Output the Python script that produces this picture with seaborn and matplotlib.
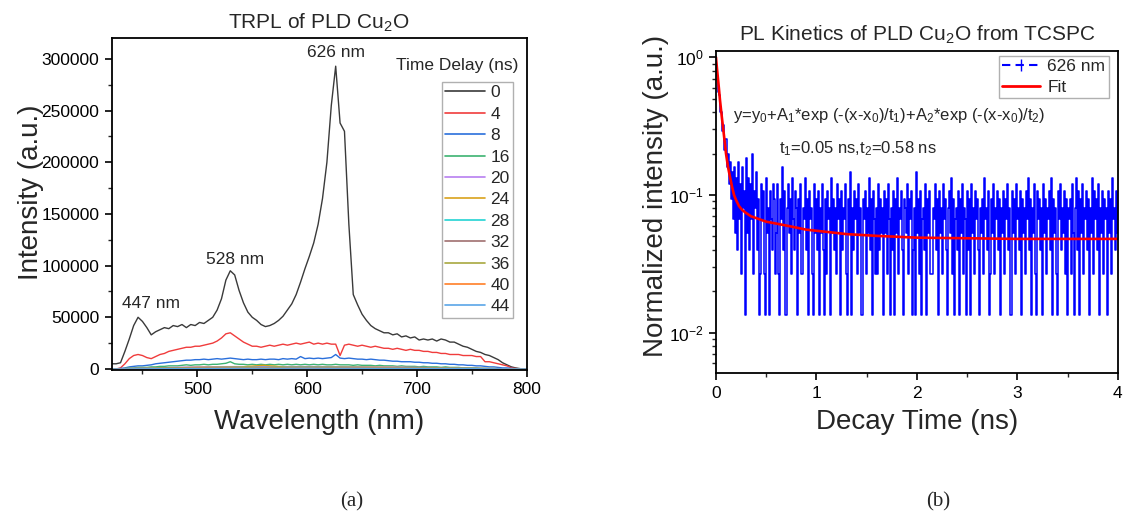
import numpy as np
import pandas as pd
import matplotlib
matplotlib.use("Agg")
import matplotlib.pyplot as plt
import seaborn as sns
from matplotlib.lines import Line2D
from matplotlib.ticker import MultipleLocator, LogLocator, NullFormatter, FixedLocator, FuncFormatter

# ------------------------------------------------------------------ data
# (a) TRPL spectra, intensity in thousands of counts
wl_fine = list(range(422, 799, 4)) + [800]
I_0ns = [5, 5, 6, 17, 29, 42, 50, 46, 40, 33,
         36, 38, 40, 39, 42, 41, 43, 40, 43, 42,
         45, 44, 47, 50, 57, 68, 86, 95, 91, 76,
         64, 55, 50, 47, 43, 41, 42, 44, 47, 51,
         57, 63, 72, 84, 97, 109, 122, 140, 165, 200,
         255, 293, 238, 230, 140, 72, 62, 53, 47, 42,
         39, 37, 35, 35, 33, 34, 31, 32, 30, 31,
         28, 29, 28, 29, 27, 29, 28, 26, 26, 24,
         22, 21, 19, 17, 16, 14, 13, 11, 9, 6,
         4, 2, 1, 0.3, 0,
         0]
I_4ns = [0, 0, 1, 5, 10, 13, 14, 13, 11, 10,
         12, 14, 15, 17, 18, 19, 20, 21, 21, 22,
         22, 23, 24, 25, 27, 30, 34, 35, 32, 29,
         26, 24, 22, 22, 21, 22, 23, 22, 23, 24,
         23, 24, 25, 24, 25, 26, 24, 25, 24, 25,
         24, 24, 13, 23, 24, 23, 22, 23, 22, 21,
         22, 21, 20, 20, 19, 20, 19, 18, 19, 18,
         18, 17, 17, 16, 16, 15, 15, 14, 14, 14,
         13, 13, 13, 12, 12, 7, 7, 6, 5, 4,
         3, 1, 0.5, 0, 0,
         0]
I_8ns = [0, 0, 0.5, 1, 2, 2.5, 3, 3, 3.5, 4,
         5, 5.5, 6, 6.5, 7, 7.5, 8, 8.5, 8.5, 9,
         9, 9.5, 9, 9.5, 10, 9.5, 10, 10.5, 10, 9.5,
         9, 9.5, 9, 9, 9.5, 9, 9.5, 9.5, 9, 10,
         9.5, 10, 9.5, 12, 10, 10.5, 10, 10.5, 10, 10.5,
         11, 14, 10.5, 10, 10.5, 10, 9.5, 9.5, 9, 9.5,
         9, 8.5, 8.5, 8, 7.5, 7.5, 7, 7, 7, 6.5,
         6.5, 6, 6, 5.5, 5.5, 5, 5, 4.5, 4.5, 4,
         4, 3.5, 3.5, 3, 3, 2.5, 2, 2, 1.5, 1,
         1, 0.5, 0.2, 0, 0,
         0]
I_16ns = [0, 0, 0, 0.5, 1, 1, 1.5, 1.5, 1.5, 2,
          2, 2.5, 2.5, 3, 3, 3, 3.5, 4, 3.5, 4,
          4, 4.5, 4, 4.5, 4.5, 5, 5.5, 7, 5, 4.5,
          4.5, 4, 4.5, 4, 4.5, 4, 4.5, 4, 4.5, 4,
          4.5, 4, 4.5, 4, 4.5, 4, 4.5, 4, 4.5, 4,
          4, 4.5, 4, 4, 4, 3.5, 4, 3.5, 3.5, 3.5,
          3, 3.5, 3, 3, 3, 2.5, 3, 2.5, 2.5, 2.5,
          2, 2.5, 2, 2, 2, 1.5, 2, 1.5, 1.5, 1.5,
          1, 1, 1, 1, 0.5, 0.5, 0.5, 0.5, 0.3, 0.2,
          0, 0, 0, 0, 0,
          0]
wl_coarse = [422, 440, 460, 480, 500, 520, 540, 560, 580, 600,
             620, 640, 660, 680, 700, 720, 740, 760, 780, 800]
I_20ns = [0, 0.5, 1, 1.5, 2, 2.2, 2.3, 2.2, 2.3, 2.4, 2.3, 2.2, 2.0, 1.8, 1.5, 1.2, 0.9, 0.6, 0.2, 0]
I_24ns = [0, 0.4, 0.8, 1.2, 1.6, 1.8, 2.0, 3.5, 1.9, 2.0, 1.9, 1.8, 1.7, 1.5, 1.3, 1.0, 0.8, 0.5, 0.2, 0]
I_28ns = [0, 0.3, 0.6, 0.9, 1.2, 1.4, 1.5, 1.5, 1.5, 1.6, 1.5, 1.4, 1.3, 1.2, 1.0, 0.8, 0.6, 0.4, 0.1, 0]
I_32ns = [0, 0.3, 0.5, 0.8, 1.0, 1.2, 1.3, 1.3, 1.3, 1.4, 1.3, 1.2, 1.1, 1.0, 0.9, 0.7, 0.5, 0.3, 0.1, 0]
I_36ns = [0, 0.2, 0.4, 0.7, 0.9, 1.0, 1.1, 1.1, 1.2, 1.2, 1.1, 1.1, 1.0, 0.9, 0.8, 0.6, 0.4, 0.3, 0.1, 0]
I_40ns = [0, 0.2, 0.3, 0.5, 0.7, 0.8, 0.9, 0.9, 0.9, 1.0, 0.9, 0.9, 0.8, 0.7, 0.6, 0.5, 0.3, 0.2, 0.1, 0]
I_44ns = [0, 0.1, 0.2, 0.4, 0.5, 0.6, 0.7, 0.7, 0.7, 0.8, 0.7, 0.7, 0.6, 0.6, 0.5, 0.4, 0.3, 0.2, 0.1, 0]

delays = ["0", "4", "8", "16", "20", "24", "28", "32", "36", "40", "44"]
delay_colors = ["#3a3a3a", "#f03c3c", "#2a6fdb", "#3cb371", "#b77ff0", "#d9a21b",
                "#22d3d3", "#a07070", "#a8a840", "#ff7f27", "#5aa6e8"]
peak_labels = ["447 nm", "528 nm", "626 nm"]
peak_pos = [(458, 63000), (534, 106000), (626, 306000)]

# (b) TCSPC decay at 626 nm: photon counts per 0.01 ns bin (normalised by peak count)
t_step_ns = 0.01
counts_626 = [
    75, 60, 55, 42, 40, 30, 30, 22, 24, 16, 19, 12, 15, 9, 13, 7, 11, 5, 12, 4,
    10, 3, 13, 5, 9, 2, 12, 6, 8, 1, 14, 4, 10, 3, 9, 5, 15, 2, 8, 6,
    11, 3, 7, 1, 2, 9, 5, 8, 2, 1, 10, 4, 6, 1, 8, 5, 3, 9, 7, 2,
    4, 9, 2, 1, 7, 5, 12, 3, 8, 1, 1, 6, 9, 4, 7, 2, 10, 5, 3, 8,
    6, 1, 7, 4, 9, 2, 2, 6, 5, 10, 3, 7, 1, 8, 5, 6, 2, 1, 9, 4,
    7, 3, 8, 1, 6, 4, 9, 3, 1, 7, 2, 8, 5, 6, 1, 10, 4, 7, 3, 6,
    2, 9, 5, 7, 1, 8, 3, 6, 5, 9, 2, 1, 7, 4, 11, 1, 6, 3, 8, 5,
    7, 2, 9, 4, 6, 1, 1, 7, 5, 8, 2, 6, 4, 10, 3, 7, 1, 8, 5, 2,
    6, 2, 9, 3, 7, 4, 6, 1, 8, 4, 7, 2, 9, 5, 1, 6, 3, 8, 1, 7,
    4, 10, 2, 6, 5, 8, 3, 1, 7, 6, 4, 9, 2, 7, 5, 8, 1, 3, 6, 1,
    11, 4, 7, 2, 8, 1, 5, 6, 3, 9, 1, 7, 4, 8, 2, 2, 6, 5, 9, 3,
    7, 1, 8, 4, 6, 2, 9, 5, 7, 3, 1, 6, 8, 4, 10, 2, 7, 1, 5, 6,
    3, 8, 1, 7, 4, 9, 2, 6, 5, 1, 8, 3, 7, 1, 9, 4, 6, 2, 8, 5,
    7, 3, 1, 6, 4, 7, 2, 10, 5, 6, 3, 8, 1, 2, 7, 4, 9, 2, 6, 5,
    8, 3, 7, 1, 6, 4, 8, 2, 7, 5, 9, 3, 6, 1, 1, 8, 4, 7, 2, 9,
    5, 6, 3, 8, 1, 7, 4, 6, 2, 8, 5, 10, 3, 7, 1, 6, 4, 9, 2, 1,
    8, 5, 7, 3, 6, 1, 9, 4, 7, 2, 6, 5, 8, 3, 10, 1, 7, 4, 6, 2,
    1, 8, 5, 9, 3, 6, 4, 8, 2, 7, 1, 6, 5, 7, 2, 9, 4, 1, 6, 10,
    3, 8, 1, 7, 4, 9, 2, 6, 5, 8, 3, 7, 1, 6, 4, 10, 2, 8, 5, 7,
    3, 9, 1, 6, 4, 8, 2, 7, 5, 6, 1, 8, 4, 7, 2, 10, 5, 6, 3, 8,
    4]
peak_count = 75
fit_t = [0, 0.01, 0.02, 0.03, 0.04, 0.05, 0.06, 0.08, 0.10, 0.12, 0.14, 0.16, 0.18, 0.20,
         0.23, 0.26, 0.30, 0.35, 0.40, 0.50, 0.60, 0.75, 0.90, 1.10, 1.30, 1.60, 2.00,
         2.50, 3.00, 3.50, 4.00]
fit_y = [1.00, 0.83, 0.70, 0.59, 0.49, 0.42, 0.36, 0.27, 0.20, 0.16, 0.135, 0.115, 0.10, 0.092,
         0.083, 0.078, 0.074, 0.070, 0.068, 0.064, 0.062, 0.059, 0.056, 0.054, 0.052, 0.0505,
         0.049, 0.0485, 0.048, 0.048, 0.048]

# ------------------------------------------------------------------ style
sns.set_theme(style="ticks")
plt.rcParams["font.family"] = ["Liberation Sans", "DejaVu Sans"]
plt.rcParams["mathtext.fontset"] = "custom"
plt.rcParams["mathtext.rm"] = "Liberation Sans"
plt.rcParams["mathtext.it"] = "Liberation Sans:italic"
plt.rcParams["mathtext.bf"] = "Liberation Sans:bold"
plt.rcParams["axes.edgecolor"] = "black"

fig = plt.figure(figsize=(11.25, 5.26), dpi=100)
fig.patch.set_facecolor("white")
ax1 = fig.add_axes([0.0993, 0.2966, 0.3689, 0.6306])
ax2 = fig.add_axes([0.6364, 0.2903, 0.3573, 0.6133])

def style_axes(ax):
    ax.set_facecolor("white")
    for sp in ax.spines.values():
        sp.set_visible(True)
        sp.set_linewidth(1.3)
        sp.set_color("black")
    ax.tick_params(which="major", direction="out", length=5, width=1.2,
                   labelsize=12.5, pad=4, colors="black", top=False, right=False)
    ax.tick_params(which="minor", direction="out", length=3, width=1.0,
                   top=False, right=False)
    ax.grid(False)

# ------------------------------------------------------------------ (a)
series = [I_0ns, I_4ns, I_8ns, I_16ns, I_20ns, I_24ns, I_28ns, I_32ns, I_36ns, I_40ns, I_44ns]
frames = []
for d, vals in zip(delays, series):
    wl = wl_fine if len(vals) == len(wl_fine) else wl_coarse
    frames.append(pd.DataFrame({"wl": wl, "I": np.array(vals, dtype=float) * 1000, "delay": d}))
df = pd.concat(frames, ignore_index=True)

sns.lineplot(data=df, x="wl", y="I", hue="delay", hue_order=delays,
             palette=dict(zip(delays, delay_colors)), estimator=None, sort=False,
             linewidth=1.0, legend=False, ax=ax1)
style_axes(ax1)
ax1.set_xlim(422, 800)
ax1.set_ylim(-1000, 320000)
ax1.xaxis.set_major_locator(FixedLocator([500, 600, 700, 800]))
ax1.xaxis.set_minor_locator(MultipleLocator(50))
ax1.yaxis.set_major_locator(MultipleLocator(50000))
ax1.yaxis.set_minor_locator(MultipleLocator(25000))
ax1.yaxis.set_major_formatter(FuncFormatter(lambda v, p: f"{int(round(v))}"))
ax1.set_title("TRPL of PLD Cu$_2$O", fontsize=15, pad=7)
ax1.set_xlabel("Wavelength (nm)", fontsize=20)
ax1.set_ylabel("Intensity (a.u.)", fontsize=20)
ax1.xaxis.set_label_coords(0.5, -0.118)
ax1.yaxis.set_label_coords(-0.163, 0.537)

for lab, (x, y) in zip(peak_labels, peak_pos):
    ax1.text(x, y, lab, fontsize=12.5, ha="center", va="center")

handles = [Line2D([], [], color=c, lw=1.2) for c in delay_colors]
leg1 = ax1.legend(handles, delays, loc="upper right", bbox_to_anchor=(0.967, 0.869),
                  borderaxespad=0, fontsize=12.5, frameon=True, fancybox=False,
                  handlelength=2.3, handletextpad=0.3, labelspacing=0.36,
                  borderpad=0.2, edgecolor="#b0b0b0", framealpha=1)
leg1.get_frame().set_linewidth(1.0)
ax1.text(0.981, 0.917, "Time Delay (ns)", transform=ax1.transAxes,
         fontsize=12.5, ha="right", va="center")

# ------------------------------------------------------------------ (b)
t_ns = np.round(np.arange(len(counts_626)) * t_step_ns, 3)
dfb = pd.DataFrame({"t": t_ns, "y": np.array(counts_626, dtype=float) / peak_count})
dff = pd.DataFrame({"t": fit_t, "y": fit_y})
sns.lineplot(data=dfb, x="t", y="y", color="#0000ff", linewidth=1.1,
             estimator=None, sort=False, drawstyle="steps-mid", ax=ax2)
sns.lineplot(data=dff, x="t", y="y", color="#ff0000", linewidth=1.9,
             estimator=None, sort=False, ax=ax2)
style_axes(ax2)
ax2.set_yscale("log")
ax2.set_xlim(0, 4)
ax2.set_ylim(0.00507, 1.117)
ax2.xaxis.set_major_locator(MultipleLocator(1))
ax2.xaxis.set_minor_locator(MultipleLocator(0.5))
ax2.yaxis.set_major_locator(FixedLocator([0.01, 0.1, 1.0]))
ax2.yaxis.set_major_formatter(FuncFormatter(
    lambda v, p: {0.01: "10$^{-2}$", 0.1: "10$^{-1}$", 1.0: "10$^{0}$"}.get(round(v, 4), "")))
ax2.yaxis.set_minor_locator(LogLocator(base=10, subs=np.arange(2, 10)))
ax2.yaxis.set_minor_formatter(NullFormatter())
ax2.set_title("PL Kinetics of PLD Cu$_2$O from TCSPC", fontsize=15, pad=7)
ax2.set_xlabel("Decay Time (ns)", fontsize=20)
ax2.set_ylabel("Normalized intensity (a.u.)", fontsize=20)
ax2.xaxis.set_label_coords(0.5, -0.111)
ax2.yaxis.set_label_coords(-0.118, 0.55)

ax2.text(0.0415, 0.80, "y=y$_0$+A$_1$*exp (-(x-x$_0$)/t$_1$)+A$_2$*exp (-(x-x$_0$)/t$_2$)",
         transform=ax2.transAxes, fontsize=12, ha="left", va="center")
ax2.text(0.157, 0.697, "t$_1$=0.05 ns,t$_2$=0.58 ns",
         transform=ax2.transAxes, fontsize=12, ha="left", va="center")

h2 = [Line2D([], [], color="#0000ff", lw=1.5, ls=(0, (4, 2.5)), marker="|",
             markersize=9, markeredgewidth=1.0),
      Line2D([], [], color="#ff0000", lw=2.0)]
leg2 = ax2.legend(h2, ["626 nm", "Fit"], loc="upper right", bbox_to_anchor=(0.977, 0.984),
                  borderaxespad=0, fontsize=12.5, frameon=True, fancybox=False,
                  handlelength=2.2, handletextpad=0.4, labelspacing=0.3,
                  borderpad=0.2, edgecolor="#b0b0b0", framealpha=1)
leg2.get_frame().set_linewidth(1.0)

# ------------------------------------------------------------------ captions
fig.text(352 / 1125, 1 - 502 / 526, "(a)", family=["Liberation Serif", "DejaVu Serif"],
         fontsize=15, ha="center", va="center")
fig.text(938 / 1125, 1 - 502 / 526, "(b)", family=["Liberation Serif", "DejaVu Serif"],
         fontsize=15, ha="center", va="center")

fig.savefig("out.png", dpi=100, facecolor="white")
